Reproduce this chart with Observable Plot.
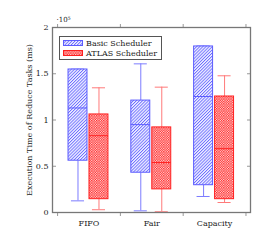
<!DOCTYPE html>
<html>
<head>
<meta charset="utf-8">
<script src="https://cdn.jsdelivr.net/npm/d3@7"></script>
<script src="https://cdn.jsdelivr.net/npm/@observablehq/plot@0.6"></script>
<style>
  html, body { margin: 0; padding: 0; background: white; }
  #wrap { position: relative; width: 272px; height: 245px; }
  #legend { position: absolute; left: 59px; top: 36px; width: 101px; height: 22px;
    border: 1px solid #555; background: white; font-family: "DejaVu Serif"; font-size: 8px; color: #222; }
  .item { position: absolute; left: 3px; display: flex; align-items: center; height: 10px; }
  .item svg { margin-right: 2px; }
</style>
</head>
<body>
<div id="wrap"></div>
<script>
// values in units of 10^5 ms
const categories = ["FIFO", "Fair", "Capacity"];
const seriesNames = ["Basic Scheduler", "ATLAS Scheduler"];
const basicLow  = [0.126, 0.018, 0.173];
const basicQ1   = [0.56, 0.43, 0.295];
const basicMed  = [1.13, 0.95, 1.254];
const basicQ3   = [1.546, 1.21, 1.795];
const basicHigh = [1.55, 1.607, 1.80];
const atlasLow  = [0.03, 0.008, 0.108];
const atlasQ1   = [0.144, 0.25, 0.144];
const atlasMed  = [0.83, 0.54, 0.69];
const atlasQ3   = [1.06, 0.92, 1.254];
const atlasHigh = [1.348, 1.355, 1.478];
const yTicks = [0, 0.5, 1, 1.5, 2];

const series = [
  {name: seriesNames[0], low: basicLow, q1: basicQ1, med: basicMed, q3: basicQ3, high: basicHigh,
   off: -0.175, fill: "url(#hatchBlue)", stroke: "#5c5cff", whisker: "#7c7cff"},
  {name: seriesNames[1], low: atlasLow, q1: atlasQ1, med: atlasMed, q3: atlasQ3, high: atlasHigh,
   off: 0.159, fill: "url(#dotsRed)", stroke: "#ff2020", whisker: "#ff7a7a"}
];
const hw = 0.151, cw = 0.104;

const marks = [];
for (const s of series) {
  const rows = categories.map((c, i) => ({i, x: i + s.off, low: s.low[i], q1: s.q1[i], med: s.med[i], q3: s.q3[i], high: s.high[i]}));
  marks.push(
    Plot.ruleX(rows, {x: "x", y1: "low", y2: "q1", stroke: s.whisker, strokeWidth: 1}),
    Plot.ruleX(rows, {x: "x", y1: "q3", y2: "high", stroke: s.whisker, strokeWidth: 1}),
    Plot.ruleY(rows, {y: "low", x1: d => d.x - cw, x2: d => d.x + cw, stroke: s.whisker, strokeWidth: 1}),
    Plot.ruleY(rows, {y: "high", x1: d => d.x - cw, x2: d => d.x + cw, stroke: s.whisker, strokeWidth: 1}),
    Plot.rect(rows, {x1: d => d.x - hw, x2: d => d.x + hw, y1: "q1", y2: "q3", fill: s.fill, stroke: s.stroke, strokeWidth: 1}),
    Plot.ruleY(rows, {y: "med", x1: d => d.x - hw, x2: d => d.x + hw, stroke: s.stroke, strokeWidth: 1})
  );
}

const bounds = [-0.5, 0.5, 1.5, 2.5];
const chart = Plot.plot({
  width: 272, height: 245,
  marginLeft: 52, marginRight: 22, marginTop: 27, marginBottom: 33,
  style: {fontFamily: "DejaVu Serif", fontSize: "8px", background: "white", color: "#222"},
  x: {domain: [-0.581, 2.572]},
  y: {domain: [0, 2]},
  marks: [
    ...marks,
    Plot.axisY({anchor: "left", ticks: yTicks, tickFormat: d => `${d}`, tickSize: 0, tickPadding: 4,
      label: "Execution Time of Reduce Tasks (ms)", labelAnchor: "center", labelOffset: 26, labelArrow: "none"}),
    Plot.axisY({anchor: "left", ticks: yTicks, tickFormat: () => "", tickSize: -4, stroke: "#999", label: null}),
    Plot.axisY({anchor: "right", ticks: yTicks, tickFormat: () => "", tickSize: -4, stroke: "#999", label: null}),
    Plot.axisX({anchor: "bottom", ticks: [0, 1, 2], tickFormat: i => categories[i], tickSize: 0, tickPadding: 8, label: null}),
    Plot.axisX({anchor: "bottom", ticks: bounds, tickFormat: () => "", tickSize: 4, stroke: "#999", label: null}),
    Plot.axisX({anchor: "top", ticks: bounds, tickFormat: () => "", tickSize: 4, stroke: "#999", label: null}),
    Plot.text([0], {frameAnchor: "top-left", text: () => "·10⁵", dx: 4, dy: -10, textAnchor: "start", fontSize: 7}),
    Plot.frame({stroke: "#777", strokeWidth: 1.3})
  ]
});

const svg = d3.select(chart);
const defs = svg.insert("defs", ":first-child");
const pb = defs.append("pattern").attr("id", "hatchBlue").attr("patternUnits", "userSpaceOnUse")
  .attr("width", 2.2).attr("height", 2.2).attr("patternTransform", "rotate(45)");
pb.append("rect").attr("width", 2.2).attr("height", 2.2).attr("fill", "#f2f3ff");
pb.append("rect").attr("x", 0).attr("width", 0.9).attr("height", 2.2).attr("fill", "#6a6aff");
const pr = defs.append("pattern").attr("id", "dotsRed").attr("patternUnits", "userSpaceOnUse")
  .attr("width", 2.4).attr("height", 2.4);
pr.append("rect").attr("width", 2.4).attr("height", 2.4).attr("fill", "#ffeaea");
pr.append("rect").attr("x", 0).attr("y", 0).attr("width", 1.3).attr("height", 1.3).attr("fill", "#ff1a1a");
pr.append("rect").attr("x", 1.2).attr("y", 1.2).attr("width", 1.3).attr("height", 1.3).attr("fill", "#ff1a1a");

const wrap = document.getElementById("wrap");
wrap.appendChild(chart);

const legend = document.createElement("div");
legend.id = "legend";
series.forEach((s, k) => {
  const it = document.createElement("div");
  it.className = "item";
  it.style.top = (1 + k * 10) + "px";
  it.innerHTML = `<svg width="21" height="6"><rect x="0.5" y="0.5" width="19" height="5" fill="${s.fill}" stroke="${s.stroke}" stroke-width="1"/></svg><span>${s.name}</span>`;
  legend.appendChild(it);
});
wrap.appendChild(legend);
</script>
</body>
</html>
